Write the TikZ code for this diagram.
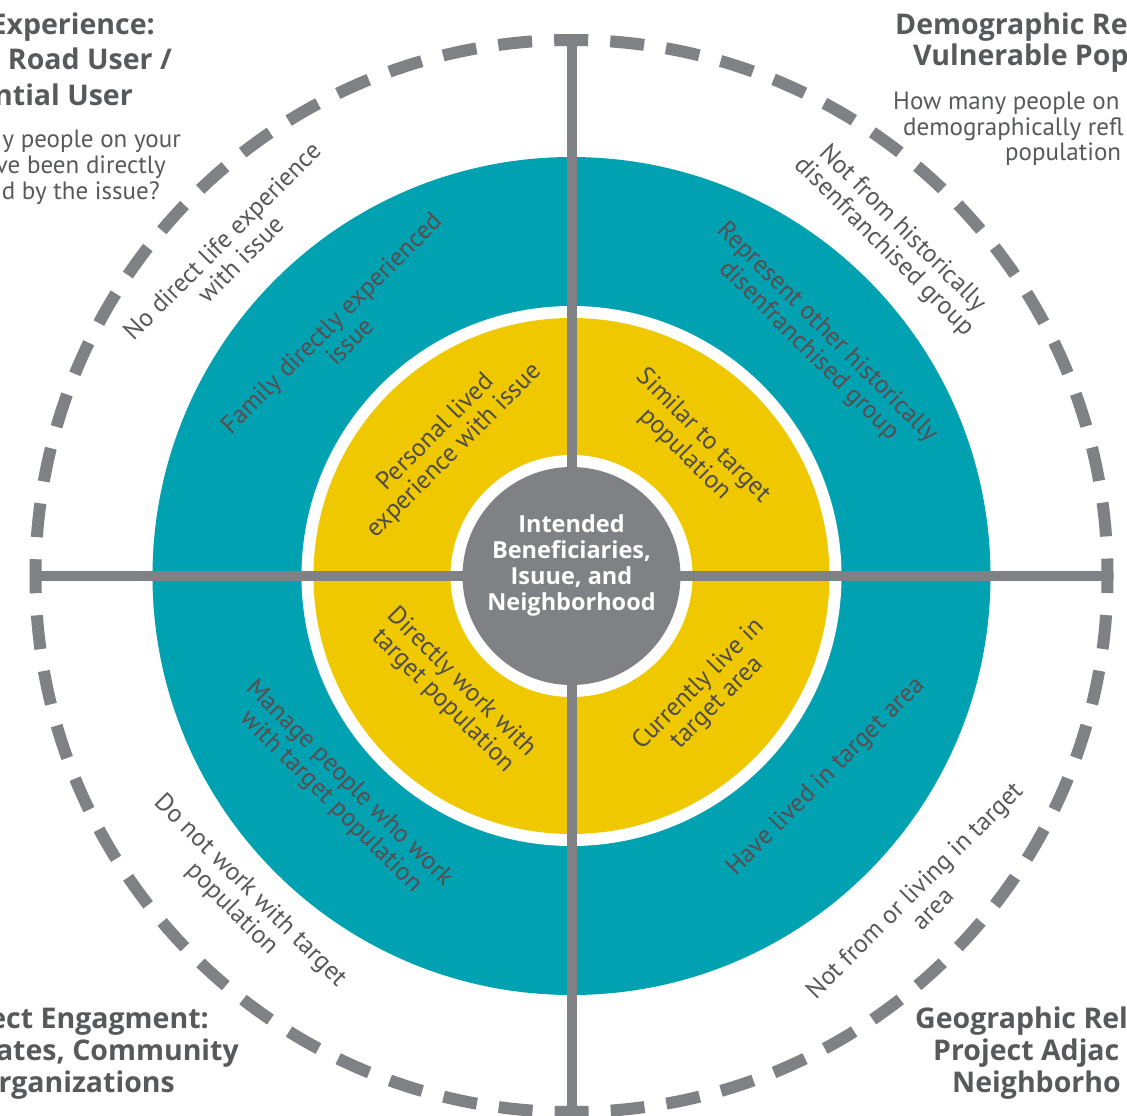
\documentclass[tikz,border=0pt]{standalone}
\usepackage{fontspec}
\setmainfont{PT Sans}
\newfontfamily\headfont{Open Sans}
\definecolor{ringteal}{RGB}{0,161,176}
\definecolor{ringyellow}{RGB}{239,200,0}
\definecolor{hubgray}{RGB}{128,129,132}
\definecolor{txtgray}{RGB}{88,89,91}
\definecolor{tealtxt}{RGB}{92,76,80}
\definecolor{yeltxt}{RGB}{80,76,74}
\begin{document}
\begin{tikzpicture}[x=1pt,y=-1pt,
  lbl/.style={text=txtgray, align=center, inner sep=0pt, font=\fontsize{25.5}{26}\selectfont},
  teallbl/.style={lbl, text=tealtxt},
  yellbl/.style={lbl, text=yeltxt},
  ttl/.style={text=txtgray, inner sep=0pt, font=\headfont\fontsize{28.5}{32}\selectfont\bfseries},
  bodytxt/.style={text=txtgray, inner sep=0pt, font=\fontsize{25}{26}\selectfont},
  spoke/.style={draw=hubgray, line width=10pt},
  rim/.style={draw=hubgray, line width=12pt, dash pattern=on 34pt off 22.13pt, dash phase=17pt}
]
\useasboundingbox (0,0) rectangle (1127,1116);
\clip (0,0) rectangle (1127,1116);
\fill[white] (0,0) rectangle (1127,1116);

\coordinate (C) at (571.5,576);
\fill[ringteal] (C) circle[radius=419];
\fill[white] (C) circle[radius=270];
\fill[ringyellow] (C) circle[radius=258];
\fill[white] (C) circle[radius=121];

\path[rim] (C) circle[radius=536];

\coordinate (W) at (35,576);
\coordinate (E) at (1108,576);
\coordinate (N) at (571.5,40);
\coordinate (S) at (571.5,1112);
\path[spoke] (W) -- (E);
\path[spoke] (N) -- (S);

\node[circle, fill=hubgray, minimum size=218pt, inner sep=0pt] (hub) at (C) {};
\node[text=white, align=center, inner sep=0pt, font=\headfont\fontsize{23.5}{26}\selectfont\bfseries] (hubtxt) at (571.5,565.5) {Intended\\Beneficiaries,\\Isuue, and\\Neighborhood};

% ring labels
\node[lbl, rotate=45] (o1) at (231,250) {No direct life experience\\with issue};
\node[teallbl, rotate=45] (t1) at (340,332) {Family directly experienced\\issue};
\node[yellbl, rotate=45] (y1) at (445,442) {Personal lived\\experience with issue};
\node[lbl, rotate=-45] (o2) at (893,238) {Not from historically\\disenfranchised group};
\node[teallbl, rotate=-45] (t2) at (818,342) {Represent other historically\\disenfranchised group};
\node[yellbl, rotate=-45] (y2) at (694,445) {Similar to target\\population};
\node[yellbl, rotate=-45] (y3) at (452,692) {Directly work with\\target population};
\node[yellbl, rotate=45] (y4) at (708,694) {Currently live in\\target area};
\node[teallbl, rotate=-45] (t3) at (340,793) {Manage people who work\\with target population};
\node[teallbl, rotate=45] (t4) at (826,777) {Have lived in target area};
\node[lbl, rotate=-45] (o3) at (241,900) {Do not work with target\\population};
\node[lbl, rotate=45] (o4) at (923,899) {Not from or living in target\\area};

% corner texts
\node[ttl, anchor=base east] (tl1) at (155,35) {Experience:};
\node[ttl, anchor=base east] (tl2) at (172,70) {r Road User /};
\node[ttl, anchor=base east] (tl3) at (133,106) {ntial User};
\node[bodytxt, anchor=base east] (tl4) at (181,147) {y people on your};
\node[bodytxt, anchor=base east] (tl5) at (166,173) {ve been directly};
\node[bodytxt, anchor=base east] (tl6) at (160,199) {d by the issue?};

\node[ttl, anchor=base west] (tr1) at (895,35) {Demographic Re};
\node[ttl, anchor=base west] (tr2) at (913,66) {Vulnerable Pop};
\node[bodytxt, anchor=base west] (tr3) at (893,110) {How many people on};
\node[bodytxt, anchor=base west] (tr4) at (903,135) {demographically refl};
\node[bodytxt, anchor=base west] (tr5) at (1005,160) {population};

\node[ttl, anchor=base east] (bl1) at (209,1028) {ect Engagment:};
\node[ttl, anchor=base east] (bl2) at (239,1060) {ates, Community};
\node[ttl, anchor=base east] (bl3) at (175,1092) {rganizations};

\node[ttl, anchor=base west] (br1) at (915,1028) {Geographic Rel};
\node[ttl, anchor=base west] (br2) at (933,1060) {Project Adjac};
\node[ttl, anchor=base west] (br3) at (952,1092) {Neighborho};
\end{tikzpicture}
\end{document}
